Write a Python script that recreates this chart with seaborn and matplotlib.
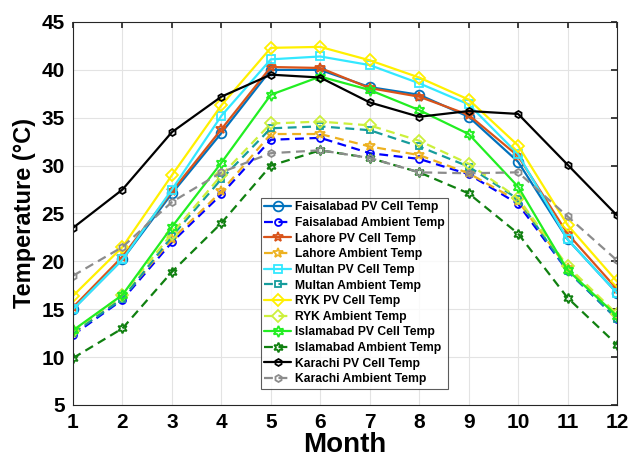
import pandas as pd
import matplotlib
matplotlib.use("Agg")
import matplotlib.pyplot as plt
import seaborn as sns

# Monthly temperatures (deg C)
months = list(range(1, 13))

faisalabad_pv = [15.0, 20.2, 27.1, 33.4, 40.0, 40.0, 38.2, 37.4, 35.1, 30.4, 22.3, 16.7]
faisalabad_amb = [12.3, 16.0, 22.0, 27.0, 32.7, 32.9, 31.3, 30.7, 29.1, 26.0, 19.0, 14.0]
lahore_pv = [15.2, 20.5, 27.3, 33.8, 40.3, 40.2, 38.1, 37.2, 35.3, 31.0, 22.9, 17.1]
lahore_amb = [12.5, 16.2, 22.3, 27.3, 33.3, 33.3, 32.0, 31.1, 29.2, 26.3, 19.3, 14.3]
multan_pv = [15.0, 20.2, 27.5, 35.2, 41.1, 41.4, 40.5, 38.6, 36.4, 31.2, 22.3, 16.7]
multan_amb = [12.5, 16.1, 22.6, 28.6, 33.9, 34.1, 33.7, 32.0, 29.9, 26.5, 19.0, 14.0]
ryk_pv = [16.4, 21.5, 29.0, 36.3, 42.3, 42.4, 41.0, 39.2, 36.9, 32.1, 23.8, 17.9]
ryk_amb = [12.7, 16.5, 22.9, 29.0, 34.4, 34.6, 34.2, 32.6, 30.2, 26.6, 19.5, 14.5]
islamabad_pv = [12.8, 16.5, 23.6, 30.3, 37.4, 39.3, 37.9, 35.8, 33.3, 27.8, 19.1, 14.3]
islamabad_amb = [9.9, 13.0, 18.9, 24.0, 30.0, 31.6, 30.8, 29.3, 27.1, 22.9, 16.2, 11.3]
karachi_pv = [23.5, 27.5, 33.5, 37.2, 39.5, 39.2, 36.6, 35.1, 35.7, 35.4, 30.1, 24.8]
karachi_amb = [18.5, 21.5, 26.2, 29.3, 31.3, 31.6, 30.8, 29.3, 29.2, 29.3, 24.7, 20.1]

labels = [
    "Faisalabad PV Cell Temp", "Faisalabad Ambient Temp",
    "Lahore PV Cell Temp", "Lahore Ambient Temp",
    "Multan PV Cell Temp", "Multan Ambient Temp",
    "RYK PV Cell Temp", "RYK Ambient Temp",
    "Islamabad PV Cell Temp", "Islamabad Ambient Temp",
    "Karachi PV Cell Temp", "Karachi Ambient Temp",
]
series = [faisalabad_pv, faisalabad_amb, lahore_pv, lahore_amb, multan_pv, multan_amb,
          ryk_pv, ryk_amb, islamabad_pv, islamabad_amb, karachi_pv, karachi_amb]

colors = ["#0072BD", "#0000FF", "#D95319", "#EDB120", "#33E8FF", "#169C9C",
          "#FFF000", "#CCF03C", "#22EE22", "#108010", "#000000", "#8C8C8C"]
markers = ["o", "o", "*", "*", "s", "s", "D", "D", (6, 1, 0), (6, 1, 0), "h", "h"]
msizes = [7, 5, 7, 7, 6, 5, 6, 6, 8, 7, 5, 5]

sns.set_theme(style="whitegrid")
plt.rcParams['font.family'] = ['Liberation Sans', 'DejaVu Sans']
plt.rcParams['text.color'] = 'black'
plt.rcParams['axes.labelcolor'] = 'black'
plt.rcParams['xtick.color'] = 'black'
plt.rcParams['ytick.color'] = 'black'

fig = plt.figure(figsize=(6.32, 4.62), dpi=100)
ax = fig.add_axes([73 / 632, 1 - 405 / 462, 544 / 632, 383 / 462])

for i, (lab, vals) in enumerate(zip(labels, series)):
    df = pd.DataFrame({"Month": months, "Temp": vals})
    ambient = "Ambient" in lab
    sns.lineplot(data=df, x="Month", y="Temp", ax=ax, color=colors[i], label=lab,
                 marker=markers[i], markersize=msizes[i], markerfacecolor="none",
                 markeredgecolor=colors[i], markeredgewidth=1.3,
                 linestyle=(0, (4, 2.5)) if ambient else "-", linewidth=1.6)

ax.set_xlim(1, 12)
ax.set_ylim(5, 45)
ax.set_xticks(months)
ax.set_yticks(range(5, 46, 5))
ax.set_facecolor("white")
ax.grid(True, color="#e3e3e3", linewidth=0.8)
for s in ax.spines.values():
    s.set_color("#262626")
    s.set_linewidth(0.8)
ax.tick_params(axis="both", direction="in", length=4, top=True, right=True,
               labelsize=15, pad=6, color="#262626", labelcolor="black")
for t in ax.get_xticklabels() + ax.get_yticklabels():
    t.set_fontweight("bold")

ax.set_xlabel("Month", fontsize=20, fontweight="bold", labelpad=0, color="black")
ax.set_ylabel("Temperature (°C)", fontsize=17, fontweight="bold", labelpad=4, color="black")

leg = ax.legend(loc="lower left", bbox_to_anchor=(0.345, 0.042), fontsize=8.7,
                frameon=True, fancybox=False, edgecolor="#333333",
                borderpad=0.3, labelspacing=0.3, handlelength=2.2,
                handletextpad=0.3, borderaxespad=0)
leg.get_frame().set_linewidth(0.8)
for t in leg.get_texts():
    t.set_fontweight("bold")
    t.set_color("black")

fig.savefig("out.png", dpi=100)
